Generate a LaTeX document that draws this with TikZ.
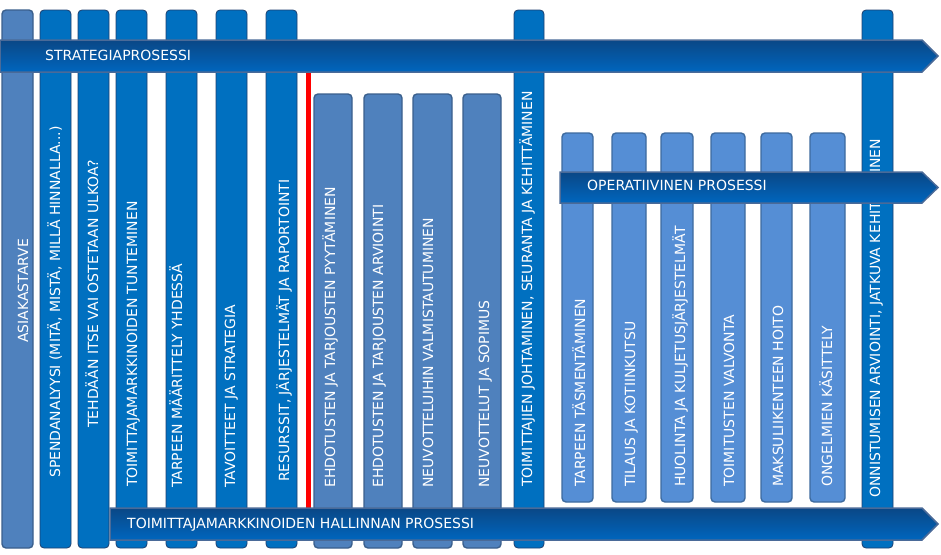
\documentclass[tikz,border=0pt]{standalone}
\usepackage{fontspec}
\setmainfont{DejaVu Sans}
\definecolor{steelfill}{HTML}{4F81BD}
\definecolor{steelline}{HTML}{3A5F8C}
\definecolor{darkfill}{HTML}{0070C0}
\definecolor{darkline}{HTML}{1F3F6E}
\definecolor{lightfill}{HTML}{558ED5}
\definecolor{lightline}{HTML}{3D6A9E}
\definecolor{arrowtop}{HTML}{0A4786}
\definecolor{arrowbot}{HTML}{0066BE}
\definecolor{arrowline}{HTML}{4A6A98}
\definecolor{redline}{HTML}{FF0000}
\begin{document}
\begin{tikzpicture}[x=1pt,y=-1pt,
  colsteel/.style={fill=steelfill, draw=steelline, line width=1.4pt, rounded corners=4pt},
  coldark/.style={fill=darkfill, draw=darkline, line width=0.8pt, rounded corners=4pt},
  collight/.style={fill=lightfill, draw=lightline, line width=1.4pt, rounded corners=4pt},
  vlabel/.style={rotate=90, anchor=base west, inner sep=0pt, text=white, font=\fontsize{14}{16}\selectfont},
  hlabel/.style={anchor=base west, inner sep=0pt, text=white, font=\fontsize{14}{16}\selectfont},
  procarrow/.style={draw=arrowline, line width=1.5pt, top color=arrowtop, bottom color=arrowbot, line join=miter}]
\useasboundingbox (0,0) rectangle (941,554);

% --- tall left columns
\draw[colsteel] (2,10) rectangle (33,548);
\foreach \a/\b in {40/71,78/109,116/147,166/197,216/247,266/297,514/544,862/893}
  \draw[coldark] (\a,10) rectangle (\b,548);
% --- middle columns
\foreach \a/\b in {314/352,364/402,413/452,463/501}
  \draw[colsteel] (\a,94) rectangle (\b,548);
% --- operative columns
\foreach \a/\b in {562/593,612/646,661/693,711/745,761/792,810/845}
  \draw[collight] (\a,133) rectangle (\b,502);

% red separator
\fill[redline] (306,60) rectangle (311,520);

% --- vertical labels
\node[vlabel] (t1) at (28,343) {ASIAKASTARVE};
\node[vlabel] (t2) at (60,478) {SPENDANALYYSI (MITÄ, MISTÄ, MILLÄ HINNALLA...)};
\node[vlabel] (t3) at (98,428) {TEHDÄÄN ITSE VAI OSTETAAN ULKOA?};
\node[vlabel] (t4) at (137,487) {TOIMITTAJAMARKKINOIDEN TUNTEMINEN};
\node[vlabel] (t5) at (182,488) {TARPEEN MÄÄRITTELY YHDESSÄ};
\node[vlabel] (t6) at (235,488) {TAVOITTEET JA STRATEGIA};
\node[vlabel] (t7) at (289,482) {RESURSSIT, JÄRJESTELMÄT JA RAPORTOINTI};
\node[vlabel] (t8) at (335,488) {EHDOTUSTEN JA TARJOUSTEN PYYTÄMINEN};
\node[vlabel] (t9) at (383,488) {EHDOTUSTEN JA TARJOUSTEN ARVIOINTI};
\node[vlabel] (t10) at (433,488) {NEUVOTTELUIHIN VALMISTAUTUMINEN};
\node[vlabel] (t11) at (489,488) {NEUVOTTELUT JA SOPIMUS};
\node[vlabel] (t12) at (532,487) {TOIMITTAJIEN JOHTAMINEN, SEURANTA JA KEHITTÄMINEN};
\node[vlabel] (t13) at (585,487) {TARPEEN TÄSMENTÄMINEN};
\node[vlabel] (t14) at (635,487) {TILAUS JA KOTIINKUTSU};
\node[vlabel] (t15) at (685,487) {HUOLINTA JA KULJETUSJÄRJESTELMÄT};
\node[vlabel] (t16) at (734,487) {TOIMITUSTEN VALVONTA};
\node[vlabel] (t17) at (783,487) {MAKSULIIKENTEEN HOITO};
\node[vlabel] (t18) at (832,487) {ONGELMIEN KÄSITTELY};
\node[vlabel] (t19) at (880,498) {ONNISTUMISEN ARVIOINTI, JATKUVA KEHITTÄMINEN};

% --- process arrows
\draw[procarrow] (0,40) -- (922,40) -- (938,56) -- (922,72) -- (0,72) -- cycle;
\draw[procarrow] (560,172) -- (922,172) -- (938,187.5) -- (922,203) -- (560,203) -- cycle;
\draw[procarrow] (110,508) -- (922,508) -- (938,524) -- (922,540) -- (110,540) -- cycle;

\node[hlabel] (h1) at (45,60) {STRATEGIAPROSESSI};
\node[hlabel] (h2) at (587,190) {OPERATIIVINEN PROSESSI};
\node[hlabel] (h3) at (127,528) {TOIMITTAJAMARKKINOIDEN HALLINNAN PROSESSI};
\end{tikzpicture}
\end{document}
